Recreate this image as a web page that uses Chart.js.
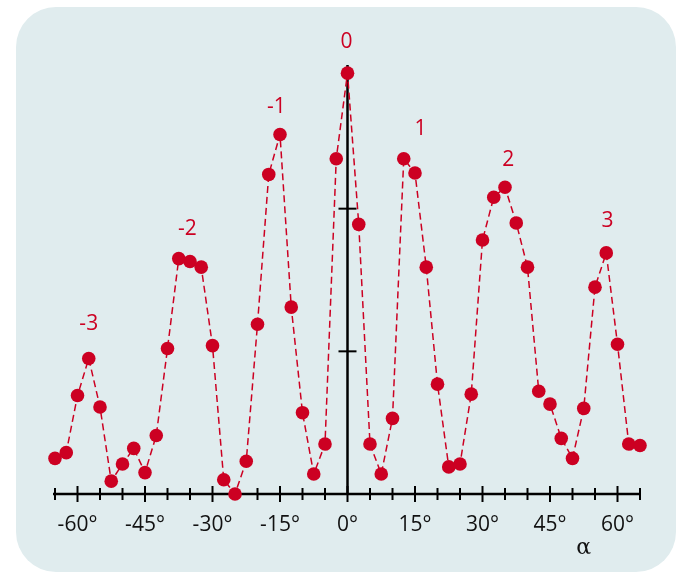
<!DOCTYPE html>
<html>
<head>
<meta charset="utf-8">
<script src="https://cdn.jsdelivr.net/npm/chart.js@4/dist/chart.umd.min.js"></script>
<style>
  body { margin: 0; background: #fff; }
  #wrap { width: 688px; height: 574px; position: relative; }
</style>
</head>
<body>
<div id="wrap"><canvas id="chart1"></canvas></div>
<script>
// angles in degrees, one point every 2.5°
const angles = [-65, -62.5, -60, -57.5, -55, -52.5, -50, -47.5, -45, -42.5, -40, -37.5, -35, -32.5, -30, -27.5, -25, -22.5, -20, -17.5, -15, -12.5, -10, -7.5, -5, -2.5,
  0, 2.5, 5, 7.5, 10, 12.5, 15, 17.5, 20, 22.5, 25, 27.5, 30, 32.5, 35, 37.5, 40, 42.5, 45, 47.5, 50, 52.5, 55, 57.5, 60, 62.5, 65];
const intensity = [0.25, 0.29, 0.69, 0.95, 0.61, 0.09, 0.21, 0.32, 0.15, 0.41, 1.02, 1.65, 1.63, 1.59, 1.04, 0.10, 0.00, 0.23, 1.19, 2.24, 2.52, 1.31, 0.57, 0.14, 0.35, 2.35,
  2.95, 1.89, 0.35, 0.14, 0.53, 2.35, 2.25, 1.59, 0.77, 0.19, 0.21, 0.70, 1.78, 2.08, 2.15, 1.90, 1.59, 0.72, 0.63, 0.39, 0.25, 0.60, 1.45, 1.69, 1.05, 0.35, 0.34];

// diffraction order labels
const orderLabels = ['-3', '-2', '-1', '0', '1', '2', '3'];
const orderX = [-57.5, -35.6, -15.8, -0.2, 16.2, 35.7, 57.8];
const orderY = [1.19, 1.855, 2.71, 3.17, 2.56, 2.34, 1.91];

const yTicks = [1, 2];
const xAxisTitle = 'α';

const red = 'rgb(204, 0, 34)';

const decorations = {
  id: 'decorations',
  beforeDraw(chart) {
    const c = chart.ctx;
    c.save();
    c.fillStyle = 'rgb(224, 236, 238)';
    c.beginPath();
    c.roundRect(16, 7, 660, 565, 40);
    c.fill();
    c.restore();
  },
  beforeDatasetsDraw(chart) {
    const c = chart.ctx;
    const x = chart.scales.x, y = chart.scales.y;
    const y0 = y.getPixelForValue(0);
    const x0 = x.getPixelForValue(0);
    c.save();
    c.strokeStyle = '#000';
    c.lineCap = 'butt';
    // x axis
    c.lineWidth = 2.5;
    c.beginPath();
    c.moveTo(x.getPixelForValue(-65) - 2, y0);
    c.lineTo(x.getPixelForValue(65) + 1, y0);
    c.stroke();
    c.lineWidth = 2;
    for (let a = -65; a <= 65; a += 5) {
      const px = x.getPixelForValue(a);
      const h = a % 15 === 0 ? 8 : 6;
      c.beginPath();
      c.moveTo(px, y0 - h);
      c.lineTo(px, y0 + h);
      c.stroke();
    }
    // y axis at 0°
    c.lineWidth = 2.5;
    c.beginPath();
    c.moveTo(x0, y0);
    c.lineTo(x0, y.getPixelForValue(3) - 1);
    c.stroke();
    c.lineWidth = 2;
    yTicks.forEach(v => {
      const py = y.getPixelForValue(v);
      c.beginPath();
      c.moveTo(x0 - 9, py);
      c.lineTo(x0 + 9, py);
      c.stroke();
    });
    c.restore();
  },
  afterDatasetsDraw(chart) {
    const c = chart.ctx;
    const x = chart.scales.x, y = chart.scales.y;
    c.save();
    c.fillStyle = red;
    c.font = '21px "Open Sans"';
    c.textAlign = 'center';
    c.textBaseline = 'middle';
    orderLabels.forEach((t, i) => {
      c.fillText(t, x.getPixelForValue(orderX[i]), y.getPixelForValue(orderY[i]));
    });
    c.fillStyle = '#111';
    c.font = '22px "DejaVu Serif"';
    c.fillText(xAxisTitle, x.getPixelForValue(52.5), 548);
    c.restore();
  }
};

new Chart(document.getElementById('chart1'), {
  type: 'scatter',
  data: {
    datasets: [{
      data: angles.map((a, i) => ({ x: a, y: intensity[i] })),
      showLine: true,
      borderColor: red,
      borderWidth: 1.5,
      borderDash: [7, 4],
      backgroundColor: red,
      pointBackgroundColor: red,
      pointBorderWidth: 0,
      pointRadius: 6.8,
      clip: false
    }]
  },
  options: {
    responsive: true,
    maintainAspectRatio: false,
    animation: false,
    layout: { padding: { left: 55, right: 48, top: 66, bottom: 0 } },
    plugins: { legend: { display: false }, tooltip: { enabled: false } },
    scales: {
      x: {
        type: 'linear',
        min: -65,
        max: 65,
        grid: { display: false },
        border: { display: false },
        afterFit: s => { s.height = 80; },
        ticks: {
          stepSize: 5,
          autoSkip: false,
          maxRotation: 0,
          padding: 10,
          color: '#111',
          font: { family: 'Open Sans', size: 21 },
          callback: v => (v % 15 === 0 && Math.abs(v) < 65) ? v + '°' : ''
        }
      },
      y: {
        display: false,
        min: 0,
        max: 3
      }
    }
  },
  plugins: [decorations]
});
</script>
</body>
</html>
